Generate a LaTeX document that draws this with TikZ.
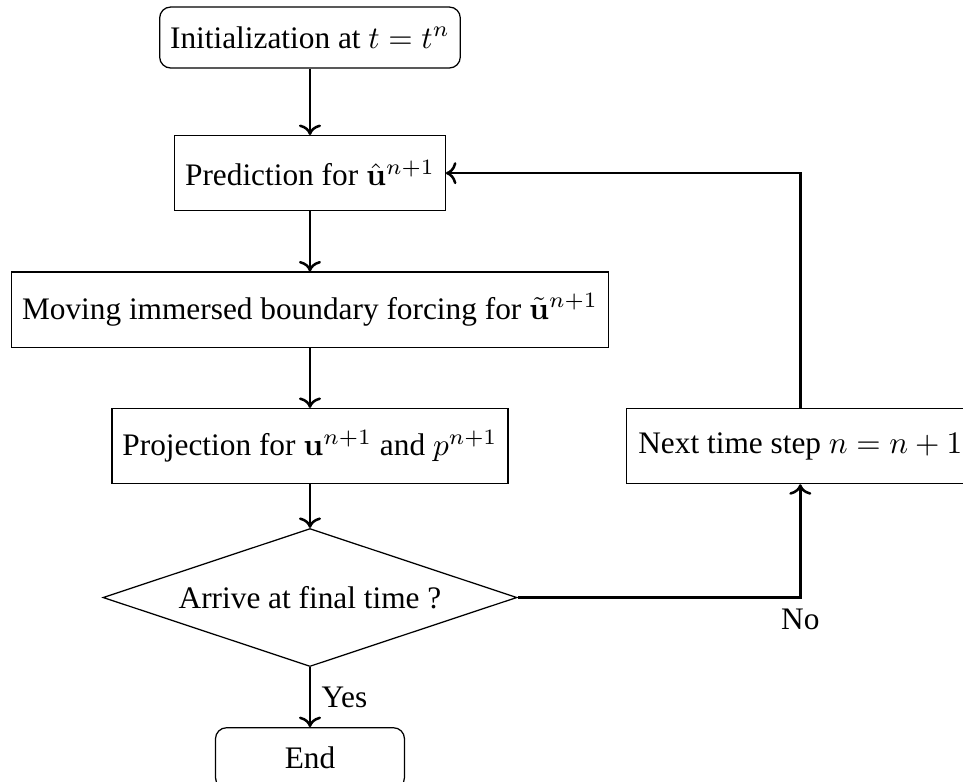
\documentclass[tikz,border=0pt]{standalone}
\usepackage{amsmath,amssymb}
\usepackage[no-math]{fontspec}
\setmainfont{Liberation Serif}
\usetikzlibrary{arrows.meta,positioning,shapes.geometric}
\tikzset{
    bloco/.style={
        rectangle,
        draw,
        align=center,
        minimum height=0.842cm
    },
    terminal/.style={bloco, rounded corners=3.5pt, minimum height=0.684cm},
    decisao/.style={
        diamond,
        draw,
        align=center,
        aspect=3,
        inner sep=0pt,
        minimum width=4.645cm,
        minimum height=1.548cm
    },
    fluxo/.style={-{To}, thick}
}

\begin{document}
\begin{tikzpicture}[node distance=0.675cm and 1.313cm]
        \useasboundingbox (0,0) rectangle (10.805,-8.774);
        \node[terminal] (init) at (3.478,-0.421)
            {Initialization at $t=t^n$};
        \node[bloco, below=0.745cm of init] (pred)
            {Prediction for $\hat{\mathbf{u}}^{n+1}$};
        \node[bloco, below=of pred] (forcing)
            {Moving immersed boundary forcing for $\tilde{\mathbf{u}}^{n+1}$};
        \node[bloco, below=of forcing] (proj)
            {Projection for $\mathbf{u}^{n+1}$ and $p^{n+1}$};
        \node[decisao, below=0.49cm of proj] (final)
            {Arrive at final time ?};
        \node[terminal, below=0.673cm of final, minimum width=2.12cm] (end)
            {End};
        \node[bloco, right=of proj, minimum width=3.905cm] (next)
            {Next time step $n=n+1$};

        \draw[fluxo] (init) -- (pred);
        \draw[fluxo] (pred) -- (forcing);
        \draw[fluxo] (forcing) -- (proj);
        \draw[fluxo] (proj) -- (final);
        \draw[fluxo] (final) -- node[right] {Yes} (end);
        \draw[fluxo] (final.east) -| node[below] {No} (next.south);
        \draw[fluxo] (next.north) |- (pred.east);
    \end{tikzpicture}
\end{document}
